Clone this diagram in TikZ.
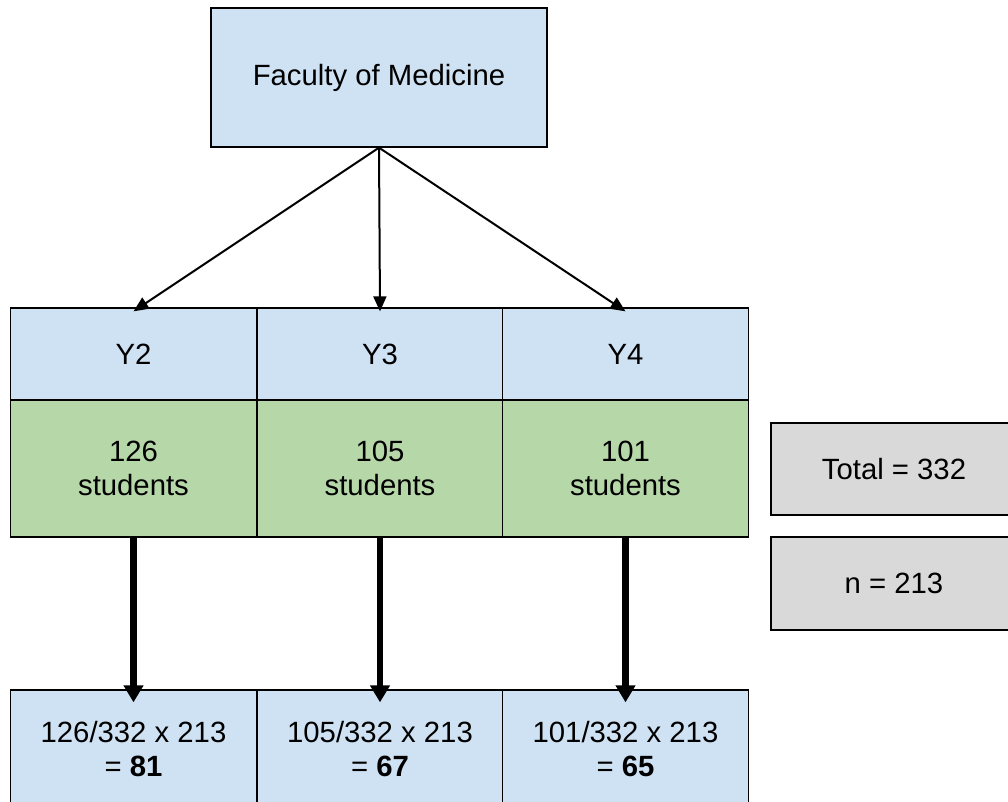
\documentclass[tikz,border=0pt]{standalone}
\usepackage{fontspec}
\setmainfont{Liberation Sans}
\usetikzlibrary{arrows.meta}
\definecolor{cellblue}{HTML}{CFE2F3}
\definecolor{cellgreen}{HTML}{B6D7A8}
\definecolor{cellgrey}{HTML}{D9D9D9}

\begin{document}
\begin{tikzpicture}[x=1pt,y=-1pt,font=\fontsize{29.3}{34}\selectfont]
   \useasboundingbox (0,0) rectangle (1008,802);
   \clip (0,0) rectangle (1008,802);
   \tikzstyle{cell}=[draw=black, line width=1.3pt, inner sep=0pt, align=center, minimum width=246pt]
   \tikzstyle{splitarrow}=[-{Triangle[length=15pt,width=13pt]}, line width=2pt]
   \tikzstyle{samplearrow}=[-{Triangle[length=17pt,width=19pt]}, line width=6.5pt]
   \node[cell, fill=cellblue, minimum width=336pt, minimum height=139pt] (faculty) at (379,77.5) {Faculty of Medicine};
   \foreach \i/\x/\num/\res in {2/133.5/126/81,3/380/105/67,4/625.5/101/65} {
       \node[cell, fill=cellblue, minimum height=92pt] (y\i) at (\x,354) {Y\i};
       \node[cell, fill=cellgreen, minimum height=137pt] (s\i) at (\x,468.5) {\num\\students};
       \node[cell, fill=cellblue, minimum height=118pt] (c\i) at (\x,749) {\num/332 x 213\\= \textbf{\res}};
       \path[splitarrow] (faculty.south) edge ([yshift=-4pt]y\i.north);
       \path[samplearrow] (s\i.south) edge ([yshift=-13pt]c\i.north);
   }
   \node[cell, fill=cellgrey, minimum height=92pt] (total) at (894,469) {Total = 332};
   \node[cell, fill=cellgrey, minimum height=93pt] (sample) at (894,583.5) {n = 213};
\end{tikzpicture}
\end{document}
